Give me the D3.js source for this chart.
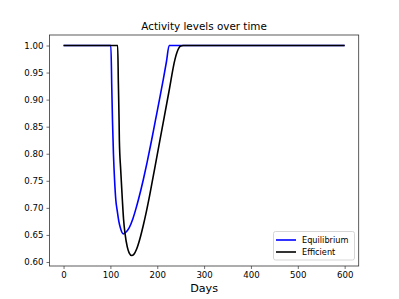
<!DOCTYPE html>
<html><head><meta charset="utf-8">
<script src="https://cdn.jsdelivr.net/npm/d3@7"></script>
<style>body{margin:0;background:#fff}svg{display:block}text{font-family:"DejaVu Sans",sans-serif}</style>
</head><body>
<svg id="c" width="399" height="299"></svg>
<script>
const title = "Activity levels over time";
const xLabel = "Days";
const seriesNames = ["Equilibrium", "Efficient"];
const xTicks = [0, 100, 200, 300, 400, 500, 600];
const yTicks = [0.60, 0.65, 0.70, 0.75, 0.80, 0.85, 0.90, 0.95, 1.00];
const eqDays = [0, 101, 103, 104.5, 106.5, 109, 111.5, 114.5, 118, 122, 127.5, 133, 140, 148, 155, 160, 165, 170.2, 178.1, 187.7, 196.2, 204.7, 212.8, 219.6, 225.5, 600];
const eqVals = [1, 1, 0.92, 0.86, 0.80, 0.75, 0.715, 0.695, 0.675, 0.661, 0.652, 0.655, 0.663, 0.68, 0.70, 0.716, 0.733, 0.752, 0.783, 0.824, 0.862, 0.900, 0.937, 0.970, 1, 1];
const efDays = [0, 115.5, 117, 118.5, 119.1, 122, 125.5, 128, 131.3, 136, 140, 145.5, 150, 156, 163, 170, 177, 184, 195, 210, 225, 237.7, 242, 246, 250, 255, 600];
const efVals = [1, 1, 0.93, 0.863, 0.826, 0.77, 0.715, 0.68, 0.652, 0.628, 0.617, 0.612, 0.614, 0.624, 0.643, 0.667, 0.694, 0.724, 0.775, 0.845, 0.915, 0.974, 0.987, 0.995, 0.999, 1, 1];
const colors = ["#0000ff", "#000000"];

const svg = d3.select("#c");
const L = 49.5, R = 358.7, T = 35, B = 266;
const x = d3.scaleLinear().domain([-30, 630]).range([L, R]);
const y = d3.scaleLinear().domain([0.5926, 1.0194]).range([B, T]);

const series = [eqDays.map((d,i)=>[d, eqVals[i]]), efDays.map((d,i)=>[d, efVals[i]])];
const line = d3.line().x(d=>x(d[0])).y(d=>y(d[1])).curve(d3.curveMonotoneX);
svg.append("g").selectAll("path").data(series).join("path")
  .attr("d", line).attr("fill","none").attr("stroke",(d,i)=>colors[i])
  .attr("stroke-width",1.6).attr("stroke-linejoin","round");

const xAxis = svg.append("g").attr("transform",`translate(0,${B})`)
  .call(d3.axisBottom(x).tickValues(xTicks).tickSize(3).tickPadding(3).tickFormat(d3.format("d")));
const yAxis = svg.append("g").attr("transform",`translate(${L},0)`)
  .call(d3.axisLeft(y).tickValues(yTicks).tickSize(3).tickPadding(3).tickFormat(d3.format(".2f")));
[xAxis, yAxis].forEach(a=>{
  a.select(".domain").remove();
  a.selectAll("text").attr("font-size",8.6).attr("font-family","DejaVu Sans").attr("fill","#000");
  a.selectAll("line").attr("stroke","#333").attr("stroke-width",0.7);
});
svg.append("rect").attr("x",L).attr("y",T).attr("width",R-L).attr("height",B-T)
  .attr("fill","none").attr("stroke","#333").attr("stroke-width",0.8);

svg.append("text").attr("x",(L+R)/2).attr("y",30).attr("text-anchor","middle")
  .attr("font-size",10.4).text(title);
svg.append("text").attr("x",(L+R)/2).attr("y",292).attr("text-anchor","middle")
  .attr("font-size",11.2).text(xLabel);

const lg = svg.append("g");
lg.append("rect").attr("x",273.5).attr("y",231.5).attr("width",81).attr("height",28.5)
  .attr("rx",2).attr("fill","#fff").attr("fill-opacity",0.8).attr("stroke","#ccc").attr("stroke-width",0.8);
seriesNames.forEach((n,i)=>{
  const yy = 240 + i*12;
  lg.append("line").attr("x1",276).attr("x2",296).attr("y1",yy).attr("y2",yy)
    .attr("stroke",colors[i]).attr("stroke-width",1.6);
  lg.append("text").attr("x",302).attr("y",yy+3).attr("font-size",8.2).text(n);
});
</script>
</body></html>
